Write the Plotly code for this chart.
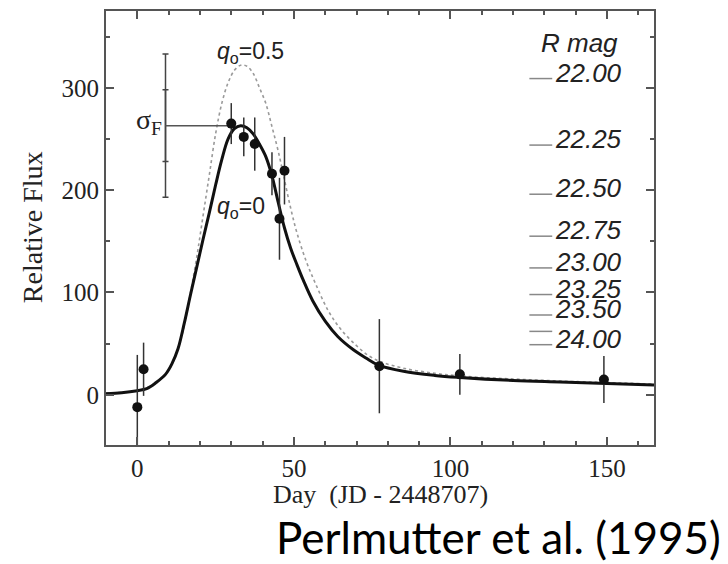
import plotly.graph_objects as go

# --- observed data points (Day, Relative Flux, 1-sigma error) ---
obs_day = [0, 2, 30, 34, 37.5, 43, 45.4, 47, 77.3, 103, 149]
obs_flux = [-12, 25, 265, 252, 245, 216, 172, 219, 28, 20, 15]
obs_err = [51, 26, 20, 19, 26, 21, 40, 33, 46, 20, 23]

# --- model light curves ---
q0_day = [-10, -5, 0, 3, 6, 9, 11, 13, 15, 17, 19, 21, 23, 25, 27, 29, 31, 33, 35, 37, 39,
          41, 43, 45, 47, 49, 51, 53, 56, 60, 64, 69, 73, 77, 85, 95, 103, 120, 135, 150, 165]
q0_flux = [1, 2, 4, 6, 12, 20, 30, 45, 70, 98, 125, 152, 178, 205, 230, 250, 260, 263, 261,
           255, 245, 233, 214, 188, 163, 143, 127, 112, 92, 72, 57, 44, 36, 29, 23, 19, 17,
           14, 12.5, 11, 9.5]

q05_day = [-10, 0, 6, 10, 13, 15, 17, 19, 21, 23, 25, 27, 29, 31, 33, 35, 37, 39, 41, 43, 45,
           47, 49, 51, 54, 57, 61, 65, 70, 74, 78, 85, 95, 105, 120, 135, 150, 165]
q05_flux = [2, 4, 12, 24, 45, 68, 100, 135, 175, 215, 255, 285, 305, 317, 322, 321, 314, 300,
            285, 262, 238, 210, 182, 158, 130, 108, 82, 64, 48, 38, 32, 26, 21, 18, 15.5,
            13.5, 12, 10.5]

# --- sigma_F indicator ---
sigma_day = 9
sigma_center = 263
sigma_f = 35
sigma_end_day = 30

# --- R magnitude scale (label, equivalent relative flux) ---
mag_labels = ["22.00", "22.25", "22.50", "22.75", "23.00", "23.25", "23.50", "", "24.00"]
mag_flux = [309, 244, 196, 155, 124, 98, 78, 62, 49]

x_ticks = [0, 50, 100, 150]
y_ticks = [0, 100, 200, 300]

AX = "#555555"
TXT = "#222222"
SERIF = "Liberation Serif, Times New Roman, serif"
SANS = "Liberation Sans, Arial, sans-serif"

fig = go.Figure()

fig.add_trace(go.Scatter(x=q05_day, y=q05_flux, mode="lines",
                         line=dict(color="#9a9a9a", width=1.6, dash="dot", shape="spline"),
                         hoverinfo="skip"))
fig.add_trace(go.Scatter(x=q0_day, y=q0_flux, mode="lines",
                         line=dict(color="#111111", width=3, shape="spline"),
                         hoverinfo="skip"))

# sigma_F bar
fig.add_trace(go.Scatter(x=[sigma_day], y=[sigma_center], mode="markers",
                         marker=dict(size=1, color="rgba(0,0,0,0)"),
                         error_y=dict(type="data", array=[2 * sigma_f], width=3,
                                      thickness=1.5, color="#444444")))
fig.add_trace(go.Scatter(x=[sigma_day], y=[sigma_center], mode="markers",
                         marker=dict(size=1, color="rgba(0,0,0,0)"),
                         error_y=dict(type="data", array=[sigma_f], width=3,
                                      thickness=1.5, color="#444444")))
fig.add_trace(go.Scatter(x=[sigma_day, sigma_end_day], y=[sigma_center, sigma_center],
                         mode="lines", line=dict(color="#555555", width=1.5)))

# magnitude dashes
dx, dy = [], []
for f in mag_flux:
    dx += [125.2, 132.5, None]
    dy += [f, f, None]
fig.add_trace(go.Scatter(x=dx, y=dy, mode="lines",
                         line=dict(color="#888888", width=1.5), hoverinfo="skip"))

# observations
fig.add_trace(go.Scatter(x=obs_day, y=obs_flux, mode="markers",
                         marker=dict(size=10, color="#111111"),
                         error_y=dict(type="data", array=obs_err, width=0,
                                      thickness=1.5, color="#333333"),
                         cliponaxis=False))

ann = []
ann.append(dict(x=36.1, y=334, text="<i>q</i><sub>o</sub>=0.5", showarrow=False,
                font=dict(family=SANS, size=23, color=TXT)))
ann.append(dict(x=33.2, y=183, text="<i>q</i><sub>o</sub>=0", showarrow=False,
                font=dict(family=SANS, size=23, color=TXT)))
ann.append(dict(x=3.8, y=267, text="σ<sub>F</sub>", showarrow=False,
                font=dict(family=SERIF, size=28, color=TXT)))
ann.append(dict(x=154, y=344, text="<i>R mag</i>", showarrow=False, xanchor="right",
                font=dict(family=SANS, size=26, color=TXT)))
for lab, f in zip(mag_labels, mag_flux):
    if lab:
        ann.append(dict(x=132.9, y=f, text="<i>" + lab + "</i>", showarrow=False,
                        xanchor="left", yanchor="middle", yshift=6,
                        font=dict(family=SANS, size=26, color=TXT)))
# axis titles
ann.append(dict(x=0.5, y=-0.115, xref="paper", yref="paper",
                text="Day  (JD - 2448707)", showarrow=False,
                xanchor="center", yanchor="middle",
                font=dict(family=SERIF, size=26, color=TXT)))
ann.append(dict(x=-0.135, y=0.502, xref="paper", yref="paper",
                text="Relative Flux", showarrow=False, textangle=-90,
                xanchor="center", yanchor="middle",
                font=dict(family=SERIF, size=28, color=TXT)))
ann.append(dict(x=1.126, y=-0.212, xref="paper", yref="paper",
                text="Perlmutter et al. (1995)", showarrow=False, xanchor="right",
                yanchor="middle", font=dict(family="Lato, Open Sans, sans-serif", size=44,
                                            color="#000000")))

axis_common = dict(showline=True, linecolor=AX, linewidth=2, mirror="ticks",
                   ticks="inside", ticklen=8, tickwidth=1.5, tickcolor=AX,
                   showgrid=False, zeroline=False, automargin=False,
                   tickfont=dict(family=SERIF, size=25, color=TXT))

# page body adds an 8px offset, so the figure is 8px smaller and margins shifted
fig.update_layout(
    width=720, height=556,
    margin=dict(l=98, r=74, t=3, b=119),
    plot_bgcolor="white", paper_bgcolor="white",
    showlegend=False,
    annotations=ann,
    xaxis=dict(range=[-10, 165], tickvals=x_ticks, ticktext=[str(v) for v in x_ticks],
               minor=dict(dtick=10, ticks="inside", ticklen=4, tickcolor=AX),
               **axis_common),
    yaxis=dict(range=[-49, 375], tickvals=y_ticks, ticktext=[str(v) for v in y_ticks],
               minor=dict(dtick=50, ticks="inside", ticklen=4, tickcolor=AX),
               **axis_common),
)

fig.write_html("out.html")
